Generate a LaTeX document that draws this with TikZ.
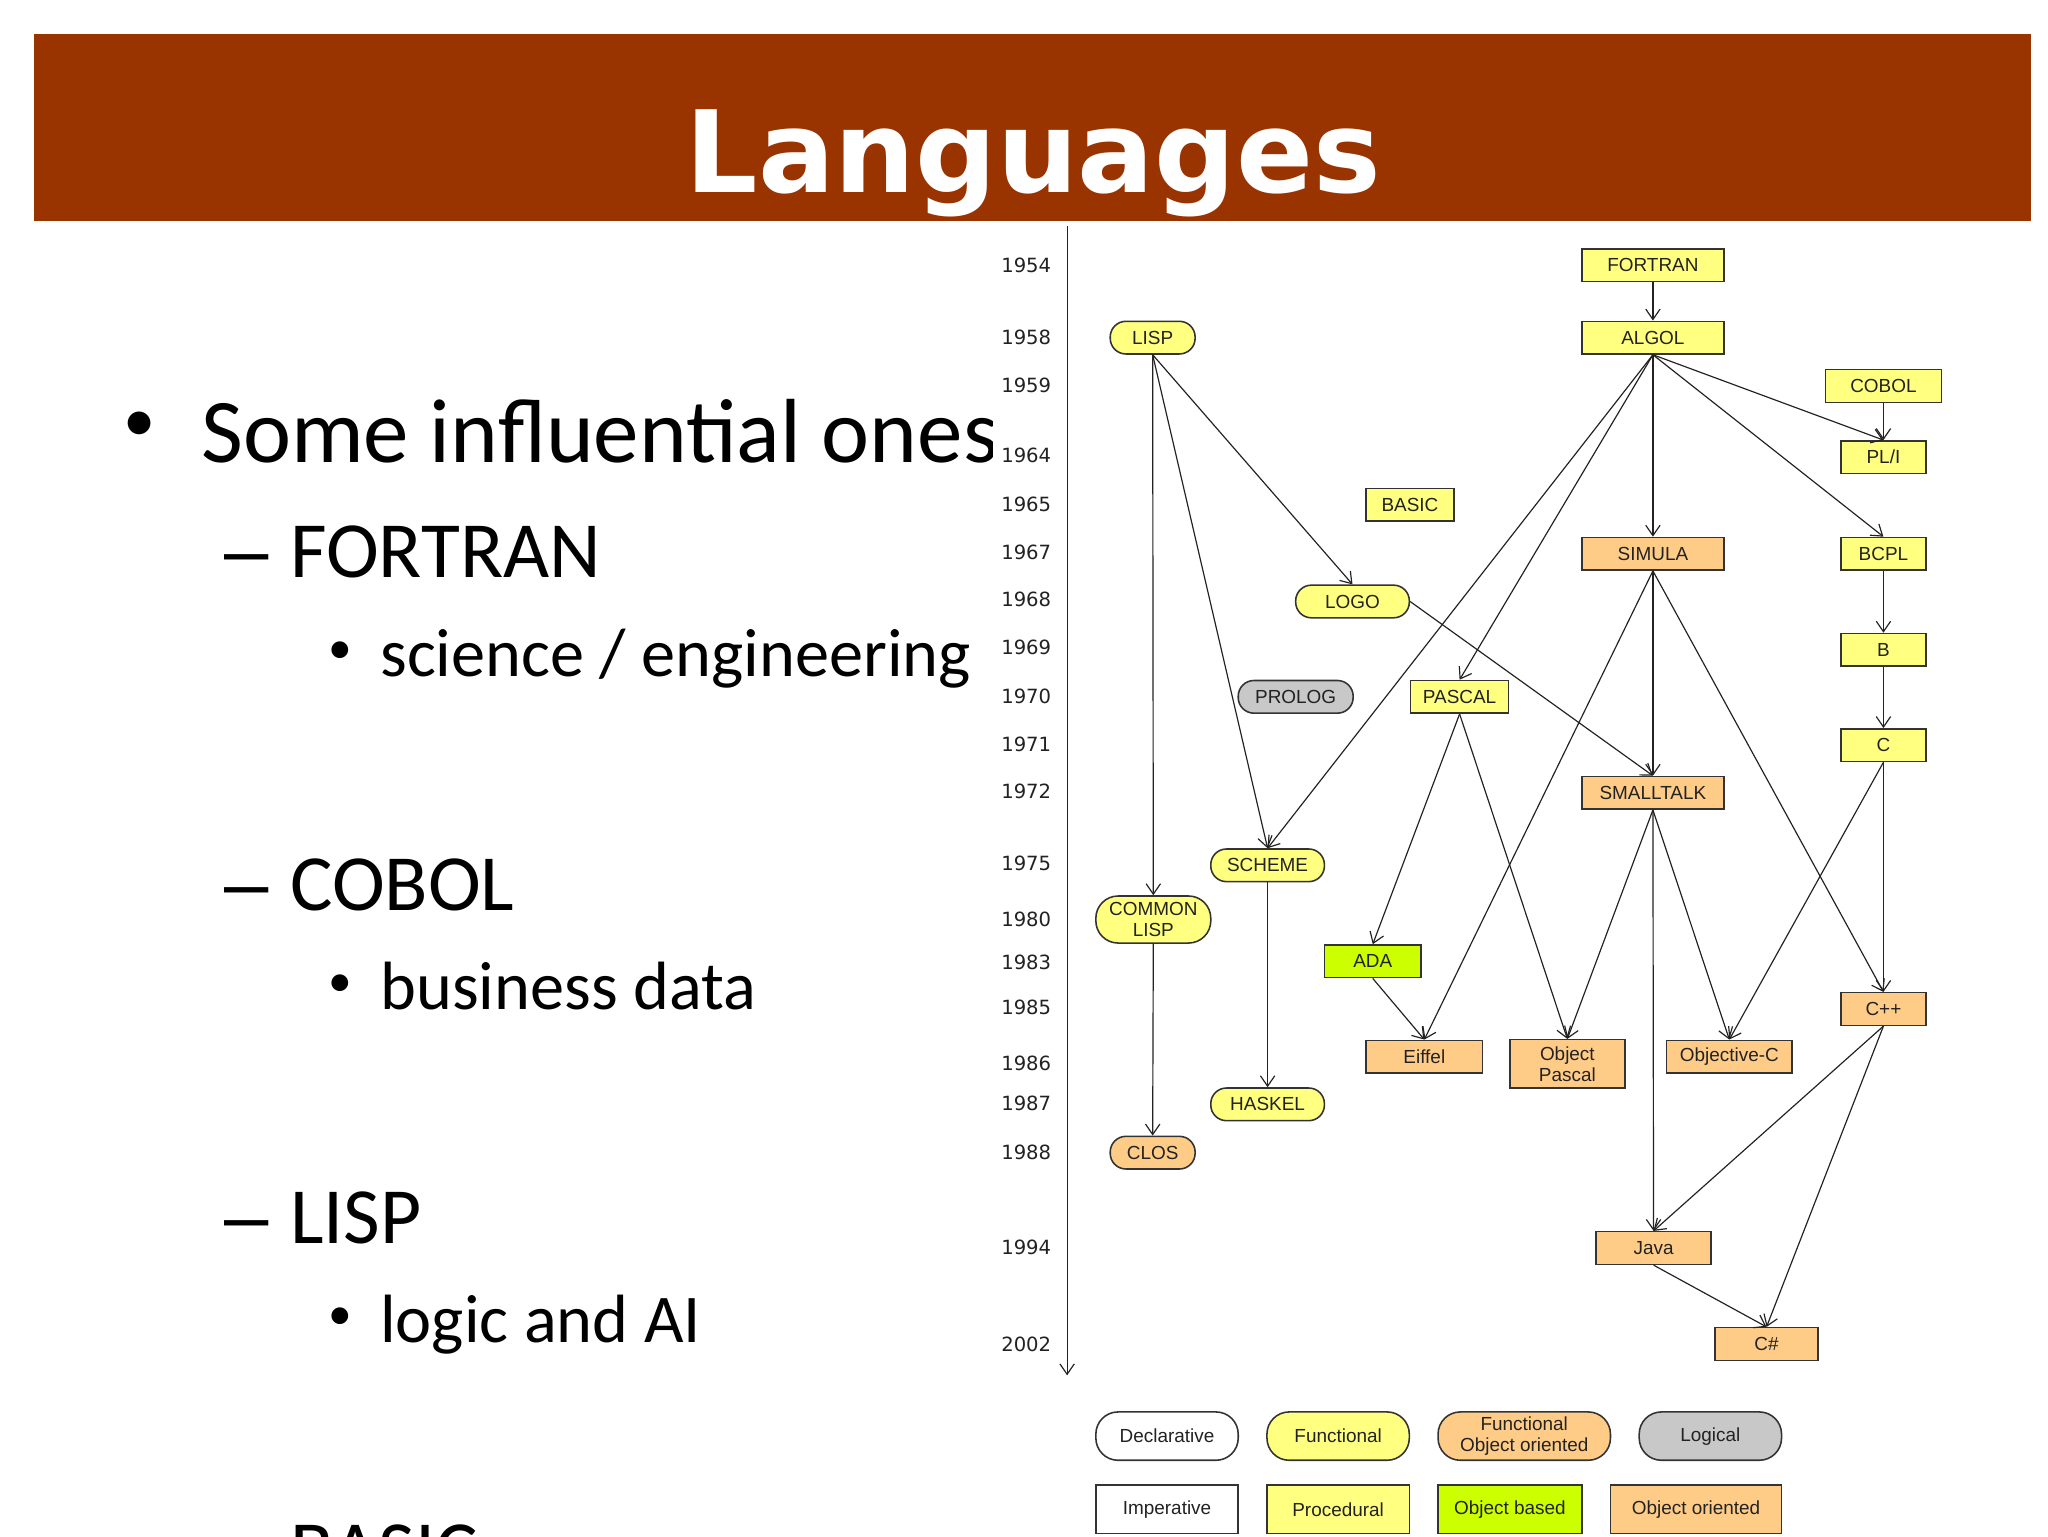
\documentclass[tikz,border=0pt]{standalone}
\usepackage{fontspec}
\usepackage{xcolor}
\usepackage{tikz}
\usetikzlibrary{arrows.meta, positioning}
\setmainfont{Carlito}
\newfontfamily\langdiagfont{Liberation Sans}
\newfontfamily\langtitlefont{DejaVu Sans}
\definecolor{titlerust}{HTML}{993300}
\definecolor{langyellow}{HTML}{FFFF80}
\definecolor{langorange}{HTML}{FFCC88}
\definecolor{langgreen}{HTML}{CCFF00}
\definecolor{langgray}{HTML}{C8C8C8}
\definecolor{langborder}{HTML}{333333}
\definecolor{langink}{HTML}{222222}
\newcommand\langnodefont{\langdiagfont\fontsize{14.5}{16}\selectfont}
\newcommand\langyearfont{\langtitlefont\fontsize{15}{18}\selectfont}

\begin{document}
\begin{tikzpicture}[
  x=1pt, y=-1pt,
  box/.style={draw=langborder, line width=1.2pt, minimum height=25, inner sep=0pt, align=center, text=langink, font=\langnodefont},
  pill/.style={box, rounded corners=12pt},
  bigpill/.style={box, rounded corners=17pt},
  year/.style={anchor=east, inner sep=0pt, text=langink, font=\langyearfont},
  lvlone/.style={anchor=base west, inner sep=0pt, font=\fontsize{69.7}{80}\selectfont},
  lvltwo/.style={anchor=base west, inner sep=0pt, font=\fontsize{61}{70}\selectfont},
  lvlthree/.style={anchor=base west, inner sep=0pt, font=\fontsize{52.3}{60}\selectfont},
  dotone/.style={anchor=base west, inner sep=0pt, font=\fontsize{49.4}{56}\selectfont},
  dotthree/.style={anchor=base west, inner sep=0pt, font=\fontsize{36.3}{42}\selectfont},
  dashmark/.style={anchor=base west, inner sep=0pt, font=\langdiagfont\fontsize{61}{70}\selectfont},
  arr/.style={-{Straight Barb[length=8pt,width=11pt]}, line width=0.9pt, langink}
]
\useasboundingbox (0,0) rectangle (1568,1176);
\fill[white] (0,0) rectangle (1568,1176);

\fill[titlerust] (26,26) rectangle (1555,169);
\node[anchor=base, inner sep=0pt, text=white, font=\langtitlefont\bfseries\fontsize{87}{100}\selectfont] (title) at (791,147) {Languages};

\node[dotone] (dotsome) at (94.5,338) {•};
\node[lvlone] (some) at (154,354) {Some influential ones};
\node[dashmark] (dashfortran) at (172,442) {–};
\node[lvltwo] (itemfortran) at (222,442) {FORTRAN};
\node[dotthree] (dotscience) at (251.5,508) {•};
\node[lvlthree] (science) at (291,518) {science / engineering};
\node[dashmark] (dashcobol) at (172,697) {–};
\node[lvltwo] (itemcobol) at (222,697) {COBOL};
\node[dotthree] (dotbusiness) at (251.5,763) {•};
\node[lvlthree] (business) at (291,773) {business data};
\node[dashmark] (dashlisp) at (172,952) {–};
\node[lvltwo] (itemlisp) at (222,952) {LISP};
\node[dotthree] (dotlogic) at (251.5,1018) {•};
\node[lvlthree] (logic) at (291,1028) {logic and AI};
\node[dashmark] (dashbasic) at (172,1207) {–};
\node[lvltwo] (itembasic) at (222,1207) {BASIC};

\fill[white] (760,170) rectangle (1568,1176);

\coordinate (axtop) at (817,173);
\coordinate (axbot) at (817,1053);
\draw[arr] (axtop) -- (axbot);

\node[year] (y1954) at (805,203) {1954};
\node[year] (y1958) at (805,258) {1958};
\node[year] (y1959) at (805,295) {1959};
\node[year] (y1964) at (805,349) {1964};
\node[year] (y1965) at (805,386) {1965};
\node[year] (y1967) at (805,423) {1967};
\node[year] (y1968) at (805,459) {1968};
\node[year] (y1969) at (805,496) {1969};
\node[year] (y1970) at (805,533) {1970};
\node[year] (y1971) at (805,570) {1971};
\node[year] (y1972) at (805,606) {1972};
\node[year] (y1975) at (805,661) {1975};
\node[year] (y1980) at (805,704) {1980};
\node[year] (y1983) at (805,737) {1983};
\node[year] (y1985) at (805,771) {1985};
\node[year] (y1986) at (805,814) {1986};
\node[year] (y1987) at (805,845) {1987};
\node[year] (y1988) at (805,882) {1988};
\node[year] (y1994) at (805,955) {1994};
\node[year] (y2002) at (805,1029) {2002};

\node[box, fill=langyellow, minimum width=109] (fortran) at (1265.5,203) {FORTRAN};
\node[box, fill=langyellow, minimum width=109] (algol) at (1265.5,258.5) {ALGOL};
\node[pill, fill=langyellow, minimum width=65] (lisp) at (882.5,258.5) {LISP};
\node[box, fill=langyellow, minimum width=89] (cobol) at (1442,295.5) {COBOL};
\node[box, fill=langyellow, minimum width=65] (pli) at (1442,350) {PL/I};
\node[box, fill=langyellow, minimum width=67] (basic) at (1079.5,386.5) {BASIC};
\node[box, fill=langorange, minimum width=109] (simula) at (1265.5,424) {SIMULA};
\node[box, fill=langyellow, minimum width=65] (bcpl) at (1442,424) {BCPL};
\node[pill, fill=langyellow, minimum width=87] (logo) at (1035.5,460.5) {LOGO};
\node[box, fill=langyellow, minimum width=65] (b) at (1442,497.5) {B};
\node[pill, fill=langgray, minimum width=88] (prolog) at (992,533.5) {PROLOG};
\node[box, fill=langyellow, minimum width=75] (pascal) at (1117.5,533.5) {PASCAL};
\node[box, fill=langyellow, minimum width=65] (c) at (1442,570.5) {C};
\node[box, fill=langorange, minimum width=109] (smalltalk) at (1265.5,607) {SMALLTALK};
\node[pill, fill=langyellow, minimum width=87] (scheme) at (970.5,662.5) {SCHEME};
\node[bigpill, fill=langyellow, minimum width=88, minimum height=36] (commonlisp) at (883,704) {COMMON\\LISP};
\node[box, fill=langgreen, minimum width=74] (ada) at (1051,736) {ADA};
\node[box, fill=langorange, minimum width=65] (cpp) at (1442,772.5) {C++};
\node[box, fill=langorange, minimum width=89] (eiffel) at (1090.5,809) {Eiffel};
\node[box, fill=langorange, minimum width=88, minimum height=37] (objpascal) at (1200,814.5) {Object\\Pascal};
\node[box, fill=langorange, minimum width=96] (objc) at (1324,809) {Objective-C};
\node[pill, fill=langyellow, minimum width=87] (haskel) at (970.5,845.5) {HASKEL};
\node[pill, fill=langorange, minimum width=65] (clos) at (882.5,882.5) {CLOS};
\node[box, fill=langorange, minimum width=88] (java) at (1266,955.5) {Java};
\node[box, fill=langorange, minimum width=79] (csharp) at (1352.5,1029) {C\#};

\draw[arr] (fortran.south) -- (algol.north);
\draw[arr] (algol.south) -- (simula.north);
\draw[arr] (algol.south) -- (pli.north);
\draw[arr] (cobol.south) -- (pli.north);
\draw[arr] (algol.south) -- (bcpl.north);
\draw[arr] (algol.south) -- (pascal.north);
\draw[arr] (algol.south) -- (scheme.north);
\draw[arr] (lisp.south) -- (logo.north);
\draw[arr] (lisp.south) -- (commonlisp.north);
\draw[arr] (lisp.south) -- (scheme.north);
\draw[arr] (logo.east) -- (smalltalk.north);
\draw[arr] (simula.south) -- (smalltalk.north);
\draw[arr] (simula.south) -- (eiffel.north);
\draw[arr] (simula.south) -- (cpp.north);
\draw[arr] (bcpl.south) -- (b.north);
\draw[arr] (b.south) -- (c.north);
\draw[arr] (c.south) -- (cpp.north);
\draw[arr] (c.south) -- (objc.north);
\draw[arr] (pascal.south) -- (ada.north);
\draw[arr] (pascal.south) -- (objpascal.north);
\draw[arr] (smalltalk.south) -- (objpascal.north);
\draw[arr] (smalltalk.south) -- (objc.north);
\draw[arr] (smalltalk.south) -- (java.north);
\draw[arr] (ada.south) -- (eiffel.north);
\draw[arr] (scheme.south) -- (haskel.north);
\draw[arr] (commonlisp.south) -- (clos.north);
\draw[arr] (cpp.south) -- (java.north);
\draw[arr] (cpp.south) -- (csharp.north);
\draw[arr] (java.south) -- (csharp.north);

\node[bigpill, fill=white, minimum width=109, minimum height=37] (declarative) at (893.5,1099.5) {Declarative};
\node[bigpill, fill=langyellow, minimum width=109, minimum height=37] (functional) at (1024.5,1099.5) {Functional};
\node[bigpill, fill=langorange, minimum width=132, minimum height=37] (funcoo) at (1167,1099.5) {Functional\\Object oriented};
\node[bigpill, fill=langgray, minimum width=109, minimum height=37] (logical) at (1309.5,1099.5) {Logical};
\node[box, fill=white, minimum width=109, minimum height=37] (imperative) at (893.5,1155.5) {Imperative};
\node[box, fill=langyellow, minimum width=109, minimum height=37] (procedural) at (1024.5,1155.5) {Procedural};
\node[box, fill=langgreen, minimum width=110, minimum height=37] (objbased) at (1156,1155.5) {Object based};
\node[box, fill=langorange, minimum width=131, minimum height=37] (objoriented) at (1298.5,1155.5) {Object oriented};
\end{tikzpicture}
\end{document}
